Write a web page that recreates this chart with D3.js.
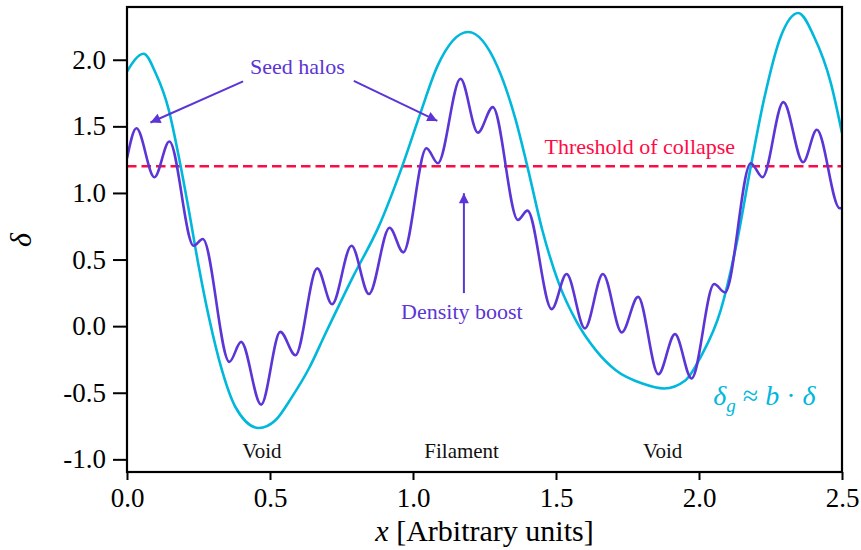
<!DOCTYPE html>
<html>
<head>
<meta charset="utf-8">
<script src="https://cdn.jsdelivr.net/npm/d3@7"></script>
<style>
  body { margin: 0; background: #fff; }
  text, tspan { font-family: 'Liberation Serif', Tinos, FreeSerif !important; }
</style>
</head>
<body>
<svg id="mysvg" width="861" height="550"></svg>
<script>
// matter density contrast (purple)
const deltaX = [0, 0.033, 0.096, 0.148, 0.233, 0.265, 0.358, 0.399, 0.469, 0.536, 0.589, 0.665, 0.717, 0.785, 0.846,
    0.918, 0.966, 1.047, 1.087, 1.166, 1.227, 1.279, 1.367, 1.400, 1.485, 1.537, 1.601, 1.664, 1.730, 1.787,
    1.858, 1.916, 1.974, 2.053, 2.091, 2.181, 2.222, 2.295, 2.364, 2.412, 2.492, 2.5];
const deltaY = [1.26, 1.486, 1.118, 1.386, 0.604, 0.654, -0.268, -0.118, -0.589, -0.043, -0.218, 0.434, 0.165, 0.604, 0.241,
    0.739, 0.554, 1.336, 1.223, 1.857, 1.453, 1.644, 0.797, 0.867, 0.128, 0.391, -0.017, 0.391, -0.047, 0.220,
    -0.361, -0.060, -0.393, 0.316, 0.253, 1.223, 1.118, 1.682, 1.231, 1.474, 0.885, 0.89];

// galaxy density contrast (cyan)
const galX = [0, 0.058, 0.1, 0.146, 0.181, 0.216, 0.251, 0.286, 0.332, 0.379, 0.461, 0.519, 0.577, 0.636, 0.694,
    0.79, 0.88, 0.962, 1.026, 1.085, 1.193, 1.295, 1.359, 1.4, 1.452, 1.51, 1.569, 1.639, 1.709, 1.802,
    1.878, 1.953, 2.006, 2.076, 2.134, 2.181, 2.227, 2.286, 2.347, 2.402, 2.461, 2.5];
const galY = [1.912, 2.045, 1.90, 1.624, 1.273, 0.872, 0.446, 0.070, -0.331, -0.607, -0.765, -0.707, -0.531, -0.318, -0.055,
    0.37, 0.747, 1.198, 1.599, 1.950, 2.208, 1.950, 1.549, 1.198, 0.722, 0.321, 0.045, -0.180, -0.331, -0.431,
    -0.468, -0.406, -0.231, 0.120, 0.647, 1.198, 1.699, 2.175, 2.351, 2.175, 1.825, 1.45];

const threshold = 1.2;
const xTicks = [0, 0.5, 1.0, 1.5, 2.0, 2.5];
const yTicks = [-1.0, -0.5, 0.0, 0.5, 1.0, 1.5, 2.0];
const regionLabels = ["Void", "Filament", "Void"];
const regionX = [0.472, 1.17, 1.873];

const w = 861, h = 550;
const margin = {left: 127, right: 19, top: 7, bottom: 78};

const purple = "#5b35d5";
const cyan = "#00b8dc";
const red = "#ff0a45";

const svg = d3.select("#mysvg");

const xScale = d3.scaleLinear()
    .domain([0, 2.5])
    .range([margin.left, w - margin.right]);

const yScale = d3.scaleLinear()
    .domain([-1.095, 2.396])
    .range([h - margin.bottom, margin.top]);

svg.append("defs").append("clipPath")
    .attr("id", "plotclip")
    .append("rect")
    .attr("x", margin.left).attr("y", margin.top)
    .attr("width", w - margin.left - margin.right)
    .attr("height", h - margin.top - margin.bottom);

svg.select("defs").append("marker")
    .attr("id", "head")
    .attr("viewBox", "0 0 10 10")
    .attr("refX", 10).attr("refY", 5)
    .attr("markerWidth", 6).attr("markerHeight", 5)
    .attr("markerUnits", "strokeWidth")
    .attr("orient", "auto")
    .append("path")
    .attr("d", "M0,0 L10,5 L0,10 Z")
    .attr("fill", purple);

const plot = svg.append("g").attr("clip-path", "url(#plotclip)");

const line = d3.line()
    .x(d => xScale(d[0]))
    .y(d => yScale(d[1]))
    .curve(d3.curveMonotoneX);

// threshold
plot.append("line")
    .attr("x1", xScale(0)).attr("x2", xScale(2.5))
    .attr("y1", yScale(threshold)).attr("y2", yScale(threshold))
    .attr("stroke", red)
    .attr("stroke-width", 2.6)
    .attr("stroke-dasharray", "9.5,5");

plot.append("path")
    .datum(galX.map((x, i) => [x, galY[i]]))
    .attr("fill", "none")
    .attr("stroke", cyan)
    .attr("stroke-width", 2.6)
    .attr("d", line);

plot.append("path")
    .datum(deltaX.map((x, i) => [x, deltaY[i]]))
    .attr("fill", "none")
    .attr("stroke", purple)
    .attr("stroke-width", 2.6)
    .attr("d", line);

// annotations
function arrow(x1, y1, x2, y2) {
    svg.append("line")
        .attr("x1", xScale(x1)).attr("y1", yScale(y1))
        .attr("x2", xScale(x2)).attr("y2", yScale(y2))
        .attr("stroke", purple)
        .attr("stroke-width", 2)
        .attr("marker-end", "url(#head)");
}
arrow(0.406, 1.837, 0.082, 1.529);
arrow(0.793, 1.842, 1.085, 1.541);
arrow(1.178, 0.248, 1.178, 0.998);

function label(x, y, size, color, txt) {
    return svg.append("text")
        .style("font", size + "px 'Liberation Serif'")
        .attr("x", x).attr("y", y)
        .attr("text-anchor", "middle")
        .attr("fill", color)
        .text(txt);
}

label(xScale(0.596), yScale(1.895), 22, purple, "Seed halos");
label(xScale(1.171), yScale(0.053), 22, purple, "Density boost");
label(xScale(1.793), yScale(1.293), 22, red, "Threshold of collapse");
regionLabels.forEach((d, i) => label(xScale(regionX[i]), yScale(-0.992), 21, "#111", d));

const eq = label(xScale(2.05), yScale(-0.594), 28, cyan, null)
    .attr("text-anchor", "start");
eq.append("tspan").style("font-style", "italic").text("δ");
eq.append("tspan").style("font-style", "italic").style("font-size", "19px").attr("dy", 7).text("g");
eq.append("tspan").attr("dy", -7).text(" ≈ ");
eq.append("tspan").style("font-style", "italic").text("b");
eq.append("tspan").text(" · ");
eq.append("tspan").style("font-style", "italic").text("δ");

// axes
svg.append("g")
    .attr("class", "x axis")
    .attr("transform", "translate(0," + (h - margin.bottom) + ")")
    .call(d3.axisBottom(xScale).tickValues(xTicks).tickFormat(d => d.toFixed(1)).tickSize(8).tickSizeOuter(0).tickPadding(8));

svg.append("g")
    .attr("class", "y axis")
    .attr("transform", "translate(" + margin.left + ",0)")
    .call(d3.axisLeft(yScale).tickValues(yTicks).tickFormat(d => d.toFixed(1)).tickSize(14).tickSizeOuter(0).tickPadding(7));

svg.selectAll(".axis").attr("font-family", null).attr("font-size", null);
svg.selectAll(".axis text")
    .style("font", "27px 'Liberation Serif'")
    .attr("fill", "#000");
svg.selectAll(".axis line").attr("stroke", "#000").attr("stroke-width", 2);
svg.selectAll(".axis path").remove();

// frame
svg.append("rect")
    .attr("x", margin.left).attr("y", margin.top)
    .attr("width", w - margin.left - margin.right)
    .attr("height", h - margin.top - margin.bottom)
    .attr("fill", "none")
    .attr("stroke", "#000")
    .attr("stroke-width", 2.2);

const xl = label((margin.left + w - margin.right) / 2, 541, 30, "#000", null);
xl.append("tspan").style("font-style", "italic").text("x");
xl.append("tspan").text(" [Arbitrary units]");

label(0, 0, 30, "#000", "δ")
    .attr("x", null).attr("y", null)
    .attr("transform", "translate(31,240) rotate(-90)")
    .style("font-style", "italic");
</script>
</body>
</html>
